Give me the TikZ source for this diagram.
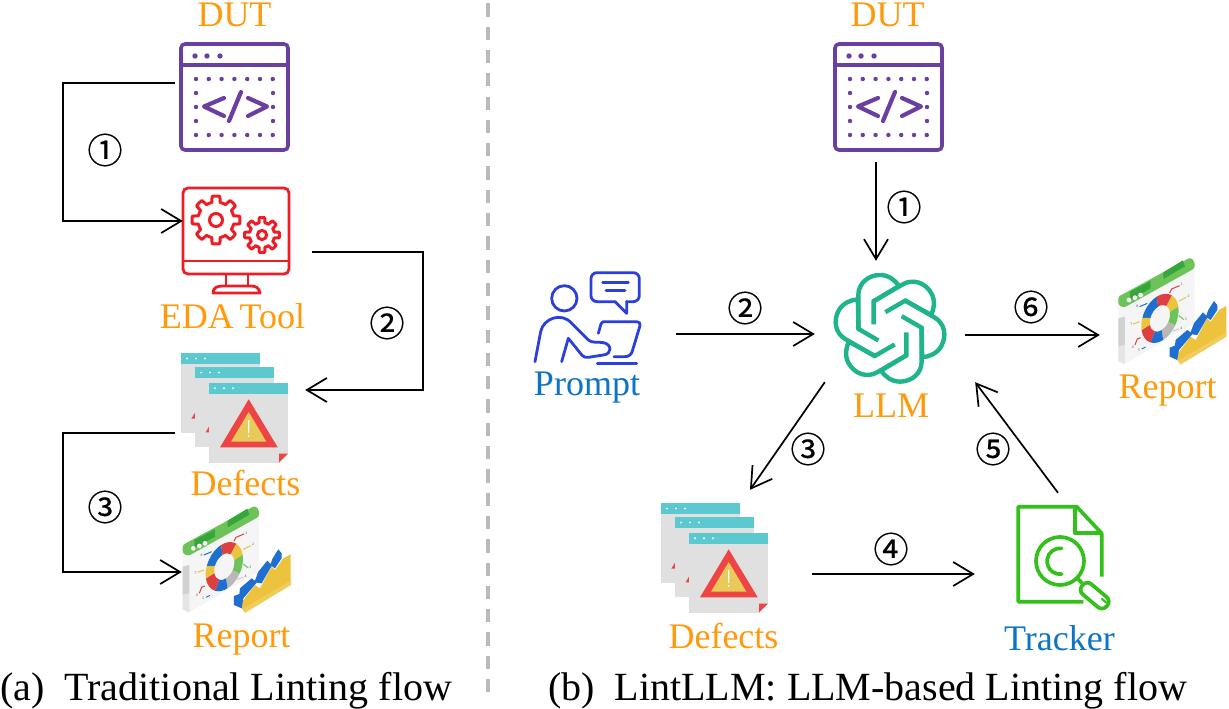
\documentclass[tikz,border=0pt]{standalone}
\usepackage{fontspec}
\setmainfont{Liberation Serif}
\newfontfamily\cjkf[FakeBold=0.5]{Noto Sans CJK SC}
\usetikzlibrary{arrows.meta,calc}
\definecolor{dutpurple}{HTML}{6B3FA0}
\definecolor{edared}{HTML}{EE1C25}
\definecolor{lblorange}{HTML}{FF9A0D}
\definecolor{lblblue}{HTML}{0B74C4}
\definecolor{gptgreen}{HTML}{20B48C}
\definecolor{trkgreen}{HTML}{33C01A}
\definecolor{prmblue}{HTML}{2A3FDB}
\definecolor{wincyan}{HTML}{5CC9D0}
\definecolor{wingray}{HTML}{E0E0E0}
\definecolor{warnred}{HTML}{EE4444}
\definecolor{warnyel}{HTML}{E8C95A}
\definecolor{repgreen}{HTML}{6CC35A}
\definecolor{repdark}{HTML}{35A63A}
\definecolor{repblue}{HTML}{1F6FD0}
\definecolor{repyel}{HTML}{EDC33E}
\definecolor{repred}{HTML}{DD4040}
\tikzset{
  x=1pt,y=-1pt,
  lbl/.style={inner sep=0,font=\fontsize{36}{36}\selectfont,text=lblorange},
  lblb/.style={lbl,text=lblblue},
  captext/.style={inner sep=0,anchor=base west,font=\fontsize{40}{40}\selectfont},
  num/.style={inner sep=0,font=\cjkf\fontsize{35}{35}\selectfont},
  box/.style={inner sep=0,draw=none,rectangle},
  flow/.style={line width=1.7pt,-{Straight Barb[length=20pt,width=24pt,line width=1.7pt]}},
  pics/dut/.style={code={
    \draw[dutpurple,line width=3.6pt,rounded corners=4pt] (0,0) rectangle (107,106);
    \draw[dutpurple,line width=4pt] (0,21) -- (107,21);
    \foreach \q in {14,26,39} \fill[dutpurple] (\q,12) circle (2.7);
    \foreach \q in {0,...,6} {\fill[dutpurple] ({15+12.8*\q},35) circle (2.2);\fill[dutpurple] ({15+12.8*\q},91) circle (2.2);}
    \foreach \q in {1,2,3} {\fill[dutpurple] (15,{35+14*\q}) circle (2.2);\fill[dutpurple] (92,{35+14*\q}) circle (2.2);}
    \draw[dutpurple,line width=4.2pt,line cap=round,line join=round] (43,54) -- (23,62.5) -- (43,72) (60,48) -- (48,77) (67,54) -- (86,62.5) -- (67,72);
  }},
  pics/eda/.style={code={
    \draw[edared,line width=2.8pt,rounded corners=5pt] (0,0) rectangle (106,86);
    \draw[edared,line width=2.8pt] (0,73) -- (106,73);
    \draw[edared,line width=2.8pt] (43,86) -- (43,98) (65,86) -- (65,98);
    \draw[edared,line width=2.8pt,line join=round] (30,105) .. controls (30,99) and (35,98) .. (40,98) -- (68,98) .. controls (73,98) and (76,100) .. (77,105) -- cycle;
    \foreach \cx/\cy/\ro/\ri/\rh in {33/32/24/18/6.5,79/47/17.5/12.5/4.6}{
      \draw[edared,line width=3pt,line join=round] plot[domain=0:360,samples=161] ({\cx+(\ri+(\ro-\ri)*min(1,max(0,0.5+1.6*cos(8*\x))))*cos(\x)},{\cy+(\ri+(\ro-\ri)*min(1,max(0,0.5+1.6*cos(8*\x))))*sin(\x)}) -- cycle;
      \draw[edared,line width=3pt] (\cx,\cy) circle (\rh);
    }
  }},
  pics/win/.style={code={
    \fill[wingray] (0,0) rectangle (79,80);
    \fill[wincyan] (0,0) rectangle (79,11);
    \foreach \q in {6,15,24} \fill[white] (\q,5.5) circle (1.1);
  }},
  pics/defects/.style={code={
    \pic at (0,0) {win};
    \fill[warnred] (14,59.7) -- (14,65.7) -- (10.3,65.7) -- cycle;
    \pic at (14,14) {win};
    \fill[warnred] (28.3,73) -- (28.3,79.3) -- (24.7,79.3) -- cycle;
    \pic at (28,29.7) {win};
    \fill[white] (98,109.7) -- (107,100.7) -- (107,110) -- cycle;
    \fill[warnred] (98,100.7) -- (107,100.7) -- (98,109.7) -- cycle;
    \fill[warnred] (67.7,46.3) -- (39,94.3) -- (96.7,94.3) -- cycle;
    \fill[warnyel] (67.7,59) -- (50,88.7) -- (85.4,88.7) -- cycle;
    \fill[white] (67,67) -- (68.4,67) -- (68.2,80) -- (67.2,80) -- cycle;
    \fill[white] (67.7,83) circle (1);
  }},
  pics/report/.style={code={\begin{scope}[x=0.3333pt,y=-0.3333pt]
    \fill[black!4] (68,625) -- (297,510) -- (297,695) -- (85,818) -- (68,808) -- cycle;
    \fill[black!18] (68,680) -- (88,675) -- (88,760) -- (68,765) -- cycle;
    \fill[black!10] (68,765) -- (88,760) -- (88,818) -- (68,808) -- cycle;
    \fill[repgreen,rounded corners=2.5pt] (68,640) -- (68,615) -- (285,497) -- (297,510) -- (297,530) -- (85,648) -- cycle;
    \fill[repdark] (103,600) -- (165,568) -- (165,590) -- (103,625) -- cycle;
    \fill[repdark] (203,542) -- (262,506) -- (268,524) -- (203,562) -- cycle;
    \foreach \q/\r in {100/625,118/618,135/610} \fill[white] (\q,\r) circle (7);
    \begin{scope}[shift={(193,680)},yslant=0.42,xscale=0.8]
      \foreach \a/\b/\c in {-160/-100/repblue,-100/-50/repred,-50/-10/repyel,-10/35/repgreen,35/80/black!28,80/120/repblue,120/170/repred,170/200/repyel}{
        \fill[\c] (\a:70) arc[start angle=\a,end angle=\b,radius=70] -- (\b:38) arc[start angle=\b,end angle=\a,radius=38] -- cycle;
      }
    \end{scope}
    \foreach \px/\py/\tx in {259/579/1,279/614/2,271/682/3,257/709/4,130/775/5,112/766/6,107/699/7,125/645/8}
      \node[inner sep=0,font=\fontsize{3.8}{4}\selectfont,text=black!70] at (\px,\py) {\tx};
    \draw[repred,line width=1pt] (252,582) -- (228,592) -- (222,604);
    \draw[repyel,line width=1pt] (272,617) -- (250,628);
    \draw[repgreen,line width=1pt] (265,684) -- (250,672);
    \draw[black!20,line width=1pt] (250,712) -- (232,718);
    \draw[repblue,line width=1pt] (138,772) -- (150,766);
    \draw[repred,line width=1pt] (118,760) -- (125,742) -- (135,738);
    \draw[repyel,line width=1pt] (113,697) -- (132,690);
    \draw[repblue,line width=1pt] (132,645) -- (155,635);
    \fill[repyel] (247,785) -- (285,735) -- (300,745) -- (335,680) -- (345,690) -- (370,655) -- (392,643) -- (392,735) -- (255,818) -- (245,805) -- cycle;
    \fill[repyel!85!white] (392,735) -- (255,818) -- (250,806) -- (392,722) -- cycle;
    \fill[repblue] (222,768) -- (238,762) -- (240,745) -- (275,715) -- (285,722) -- (295,695) -- (322,662) -- (332,672) -- (338,655) -- (355,628) -- (365,640) -- (365,655) -- (345,685) -- (335,678) -- (305,730) -- (290,728) -- (250,775) -- (245,805) -- (222,795) -- cycle;
  \end{scope}}},
  pics/gptknot/.style={code={\begin{scope}[x=0.3333pt,y=-0.3333pt]
    \foreach \r in {0,60,...,300}{
      \begin{scope}[rotate=\r]
        \draw[gptgreen,line width=4.4pt,line join=miter] (-95,3) -- (-95,-100) .. controls (-95,-135) and (-65,-160) .. (-30,-160) .. controls (-5,-160) and (15,-145) .. (27,-127) -- (-49,-81) -- (-49,-12);
      \end{scope}
    }
  \end{scope}}},
  pics/tracker/.style={code={\begin{scope}[x=0.3333pt,y=-0.3333pt]
    \draw[trkgreen,line width=3.7pt,line join=round] (250,320) -- (55,320) -- (55,35) -- (230,35) -- (305,115) -- (305,245);
    \draw[trkgreen,line width=3.7pt,line join=round] (225,35) -- (225,115) -- (305,115);
    \draw[trkgreen,line width=3.7pt] (180,198) circle (72);
    \draw[trkgreen,line width=3.7pt,line cap=round] (185,160) arc[start angle=-83,end angle=-277,radius=39];
    \draw[trkgreen,line width=3.7pt] (232,250) -- (246,264);
    \draw[trkgreen,line width=3.7pt,rounded corners=6pt,rotate around={-40:(284,302)}] (236,282) rectangle (332,322);
    \draw[trkgreen,line width=2.2pt,line cap=round] (306,312) -- (318,322);
  \end{scope}}},
  pics/prompter/.style={code={\begin{scope}[x=0.3333pt,y=-0.3333pt]
    \begin{scope}[prmblue,line width=2.8pt,line cap=round,line join=round]
    \draw (133,115) circle (38);
    \draw[rounded corners=6pt] (285,125) -- (213,125) -- (213,38) -- (358,38) -- (358,125) -- (320,125);
    \draw (285,125) -- (320,160) -- (320,125);
    \draw (248,68) -- (325,68) (258,92) -- (315,92);
    \draw (45,305) -- (62,215) .. controls (70,175) and (125,155) .. (155,190) -- (205,240) .. controls (215,250) and (235,245) .. (250,248) .. controls (275,252) and (278,282) .. (250,285) -- (205,292) .. controls (190,294) and (185,285) .. (175,272) -- (145,235) -- (125,305);
    \draw (235,220) -- (243,192) .. controls (245,185) and (250,185) .. (255,185) -- (350,185) .. controls (358,185) and (362,190) .. (360,197) -- (338,270) .. controls (335,285) and (325,290) .. (315,290) -- (282,290);
    \draw (232,310) -- (350,310);
    \end{scope}
  \end{scope}}}
}
\begin{document}
\begin{tikzpicture}
\useasboundingbox (0,0) rectangle (1229,709);
\fill[white] (0,0) rectangle (1229,709);
% separator
\draw[black!27,line width=4pt,dash pattern=on 13.3pt off 10pt] (488,3.3) -- (488,694);
% invisible frames of the icons
\node[box,minimum width=119pt,minimum height=106pt] (dutA) at (234.5,97) {};
\node[box,minimum width=129pt,minimum height=107pt] (edaA) at (247.5,241.5) {};
\node[box,minimum width=130pt,minimum height=109pt] (defA) at (240,407.5) {};
\node[box,minimum width=108pt,minimum height=110pt] (repA) at (236,560) {};
\node[box,minimum width=107pt,minimum height=118pt] (dutB) at (889,103) {};
\node[box,minimum width=150pt,minimum height=121pt] (llm) at (890,321.5) {};
\node[box,minimum width=141pt,minimum height=100pt] (prm) at (605.5,320) {};
\node[box,minimum width=126pt,minimum height=107pt] (repB) at (1163,311.5) {};
\node[box,minimum width=151pt,minimum height=122pt] (defB) at (736.5,551) {};
\node[box,minimum width=140pt,minimum height=122pt] (trk) at (1045,554) {};
% icons
\pic at (181,44) {dut};
\pic at (183,188) {eda};
\pic at (181,353) {defects};
\pic at (160,340) {report};
\pic at (835,44) {dut};
\pic at (661,503) {defects};
\pic at (1095.6,91.7) {report};
\pic at (890,328.3) {gptknot};
\pic at (1000,495) {tracker};
\pic at (520,260) {prompter};
% labels
\node[lbl] (tDutA) at (234.5,15) {DUT};
\node[lbl] (tEda) at (232.5,316) {EDA\hspace{-3pt} Tool};
\node[lbl] (tDefA) at (245.5,483) {Defects};
\node[lbl] (tRepA) at (241.5,639.5) {Report};
\node[lbl] (tDutB) at (887.5,15) {DUT};
\node[lblb] (tPrm) at (587,388) {Prompt};
\node[lbl] (tLlm) at (891,406) {LLM};
\node[lbl] (tRepB) at (1167.5,391) {Report};
\node[lbl] (tDefB) at (723.5,636) {Defects};
\node[lblb] (tTrk) at (1059.5,638) {Tracker};
% connectors
\draw[flow] ([yshift=14pt]dutA.west) -| (63,221) -- ([yshift=20.5pt]edaA.west);
\draw[flow] ([yshift=-10.5pt]edaA.east) -| (423,390) -- ([yshift=17.5pt]defA.east);
\draw[flow] ([yshift=-25.5pt]defA.west) -| (63,572) -- ([yshift=-12pt]repA.west);
\draw[flow] ([xshift=-13pt]dutB.south) -- ([xshift=-14pt]llm.north);
\draw[flow] ([yshift=-14pt]prm.east) -- ([yshift=-12.5pt]llm.west);
\draw[flow] ([yshift=-13.5pt]llm.east) -- ([yshift=-23.5pt]repB.west);
\draw[flow] ([xshift=10pt]llm.south west) -- ([xshift=13.5pt]defB.north);
\draw[flow] ([yshift=-23pt]defB.east) -- ([yshift=-20pt]trk.west);
\draw[flow] ([xshift=13pt]trk.north) -- ([xshift=10pt]llm.south east);
% numbers
\node[num] (n1) at (105,150) {①};
\node[num] (n2) at (387,323) {②};
\node[num] (n3) at (105,507) {③};
\node[num] (m1) at (904,207) {①};
\node[num] (m2) at (745,308) {②};
\node[num] (m3) at (808,449) {③};
\node[num] (m4) at (891,549) {④};
\node[num] (m5) at (993,449) {⑤};
\node[num] (m6) at (1031,307) {⑥};
% captions
\node[captext] (capA) at (0,700) {(a)\hspace{10pt} Traditional Linting flow};
\node[captext] (capB) at (548,700) {(b)\hspace{10pt} LintLLM: LLM-based Linting flow};
\end{tikzpicture}
\end{document}
